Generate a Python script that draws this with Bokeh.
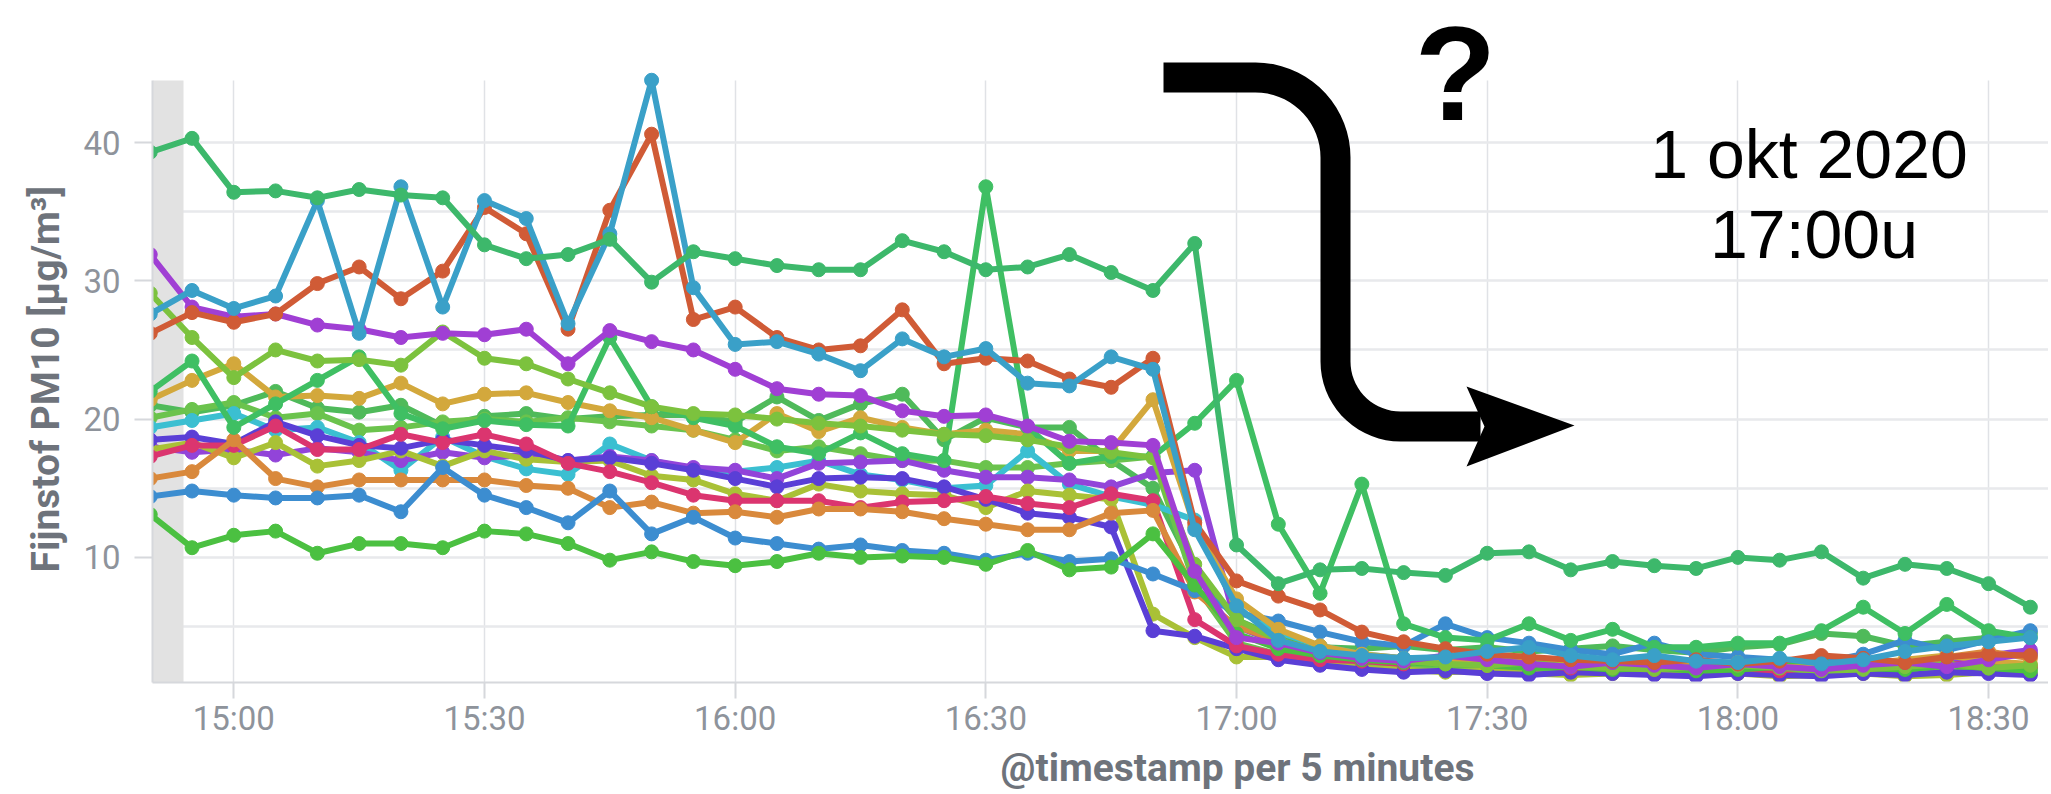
import numpy as np
import pandas as pd
from bokeh.plotting import figure
from bokeh.models import (Range1d, FixedTicker, DatetimeTickFormatter, BoxAnnotation,
                          PolyAnnotation, Label, Title)
from bokeh.embed import file_html
from bokeh.resources import INLINE

# ---------------- data ----------------
times = pd.date_range("2020-10-01 14:50", periods=46, freq="5min")
tick_labels = ["15:00", "15:30", "16:00", "16:30", "17:00", "17:30", "18:00", "18:30"]
y_ticks = [10, 20, 30, 40]
y_minor = [5, 15, 25, 35]

green2 = [21.0, 20.5, 21.0, 22.0, 20.8, 20.5, 21.0, 19.5, 20.2, 20.4, 20.0, 20.2, 20.3, 20.3, 19.8, 21.6,
          19.9, 21.1, 21.8, 18.5, 20.1, 19.4, 19.4, 17.0, 15.0, 9.0, 5.5, 4.2, 3.5, 3.4, 3.6, 3.3, 3.5, 3.2,
          3.4, 3.6, 3.3, 3.1, 3.5, 3.7, 4.5, 4.3, 3.6, 3.9, 4.2, 4.5]
lightgreen = [20.1, 20.7, 21.2, 20.1, 20.4, 19.2, 19.4, 19.8, 20.0, 19.8, 20.1, 19.8, 19.5, 19.2, 18.5, 17.7,
              18.0, 17.5, 17.0, 17.0, 16.5, 16.5, 16.8, 17.0, 17.3, 8.0, 3.8, 3.0, 2.5, 2.2, 2.0, 1.9, 2.1, 1.8,
              1.7, 1.9, 1.8, 1.6, 1.8, 1.7, 1.6, 1.8, 1.9, 1.7, 1.9, 2.0]
cyan = [19.4, 19.9, 20.4, 19.2, 19.4, 18.3, 16.3, 18.7, 17.3, 16.4, 16.0, 18.2, 17.0, 16.4, 16.2, 16.5, 17.0,
        16.0, 15.6, 15.0, 15.2, 17.7, 15.3, 14.4, 13.8, 12.7, 6.2, 4.6, 3.6, 3.0, 2.7, 2.5, 2.8, 2.3, 2.6, 2.2,
        2.4, 2.1, 2.3, 2.0, 2.2, 2.4, 2.1, 2.5, 2.8, 3.0]
violet = [18.0, 17.6, 17.8, 17.4, 17.9, 17.6, 17.0, 17.6, 17.2, 17.4, 17.0, 17.3, 17.0, 16.5, 16.3, 15.7, 16.8,
          16.9, 17.0, 16.3, 15.8, 15.8, 15.6, 15.1, 16.1, 16.3, 5.0, 3.8, 3.2, 2.8, 2.6, 2.4, 2.2, 2.5, 2.1, 2.0,
          2.2, 2.4, 2.0, 2.3, 2.1, 2.0, 2.2, 2.6, 2.9, 3.3]
olive = [17.8, 18.3, 17.2, 18.3, 16.6, 17.0, 17.7, 16.6, 17.7, 17.1, 16.9, 17.0, 15.9, 15.6, 14.6, 14.1, 15.3,
         14.8, 14.6, 14.5, 13.6, 14.8, 14.5, 14.2, 5.9, 4.2, 2.8, 2.8, 2.3, 2.0, 1.9, 1.7, 1.8, 1.6, 1.5, 1.6,
         1.7, 1.5, 1.6, 1.4, 1.5, 1.6, 1.4, 1.5, 1.7, 1.6]
indigo = [18.5, 18.7, 18.2, 19.8, 18.8, 18.1, 17.9, 18.5, 18.1, 17.7, 17.0, 17.2, 16.8, 16.3, 15.7, 15.1, 15.7,
          15.8, 15.7, 15.1, 14.2, 13.2, 12.9, 12.2, 4.7, 4.3, 3.4, 2.6, 2.2, 1.9, 1.7, 1.8, 1.6, 1.5, 1.7, 1.6,
          1.5, 1.4, 1.6, 1.5, 1.4, 1.6, 1.5, 1.7, 1.6, 1.5]
magenta = [17.3, 18.1, 18.1, 19.5, 17.8, 17.8, 18.9, 18.3, 18.9, 18.2, 16.8, 16.2, 15.4, 14.5, 14.1, 14.1,
           14.1, 13.6, 14.0, 14.1, 14.4, 13.9, 13.6, 14.6, 14.1, 5.5, 3.6, 3.0, 2.6, 2.5, 2.3, 2.8, 2.6, 2.2,
           2.0, 2.1, 1.9, 2.2, 2.0, 1.8, 2.1, 2.3, 2.0, 2.2, 2.5, 2.1]
orange = [15.7, 16.2, 18.5, 15.7, 15.1, 15.6, 15.6, 15.6, 15.6, 15.2, 15.0, 13.6, 14.0, 13.2, 13.3, 12.9, 13.5,
          13.5, 13.3, 12.8, 12.4, 12.0, 12.0, 13.2, 13.4, 7.5, 5.0, 4.0, 3.2, 2.9, 2.6, 2.4, 2.6, 2.3, 2.2, 2.4,
          2.6, 2.3, 2.1, 2.4, 2.7, 2.5, 2.2, 2.8, 3.2, 2.7]
medblue = [14.4, 14.8, 14.5, 14.3, 14.3, 14.5, 13.3, 16.5, 14.5, 13.6, 12.5, 14.8, 11.7, 12.9, 11.4, 11.0, 10.6,
           10.9, 10.5, 10.3, 9.8, 10.3, 9.7, 9.9, 8.8, 7.6, 6.0, 5.4, 4.6, 3.9, 3.6, 5.2, 4.2, 3.8, 3.3, 3.0,
           3.8, 3.0, 2.8, 2.6, 2.4, 3.0, 4.0, 3.3, 4.0, 4.7]
green_low = [13.1, 10.7, 11.6, 11.9, 10.3, 11.0, 11.0, 10.7, 11.9, 11.7, 11.0, 9.8, 10.4, 9.7, 9.4, 9.7, 10.3,
             10.0, 10.1, 10.0, 9.5, 10.5, 9.1, 9.3, 11.7, 8.0, 4.5, 3.4, 2.9, 2.6, 2.4, 2.3, 2.2, 2.0, 2.1, 1.9,
             2.0, 1.8, 1.9, 2.1, 2.4, 2.0, 1.9, 2.2, 2.0, 1.8]
gold = [21.4, 22.8, 24.0, 21.6, 21.7, 21.5, 22.6, 21.1, 21.8, 21.9, 21.2, 20.6, 20.1, 19.2, 18.3, 20.4, 19.1,
        20.1, 19.4, 18.9, 19.2, 18.9, 17.7, 17.7, 21.4, 12.2, 7.0, 4.8, 3.6, 3.0, 2.7, 2.4, 2.2, 2.5, 2.3, 2.1,
        2.0, 2.2, 2.4, 2.1, 2.0, 2.3, 2.6, 2.9, 2.5, 2.3]
green_spiky = [22.0, 24.2, 19.4, 21.1, 22.8, 24.5, 20.4, 19.3, 19.9, 19.6, 19.5, 25.9, 20.9, 20.1, 19.5, 18.0,
               17.5, 19.0, 17.5, 17.0, 36.8, 19.4, 16.8, 17.3, 17.3, 19.7, 22.8, 12.4, 7.4, 15.3, 5.2, 4.2, 4.0,
               5.2, 4.0, 4.8, 3.5, 3.5, 3.8, 3.8, 4.7, 6.4, 4.5, 6.6, 4.7, 4.2]
lime = [29.1, 25.9, 23.0, 25.0, 24.2, 24.3, 23.9, 26.3, 24.4, 24.0, 22.9, 21.9, 20.9, 20.4, 20.3, 20.0, 19.7,
        19.5, 19.2, 18.9, 18.8, 18.5, 18.0, 17.6, 17.2, 9.5, 5.5, 4.0, 3.2, 2.8, 2.5, 2.3, 2.2, 2.4, 2.1, 2.0,
        1.9, 2.1, 2.2, 2.0, 1.8, 1.9, 2.1, 2.3, 2.0, 2.2]
purple = [31.9, 28.1, 27.4, 27.6, 26.8, 26.5, 25.9, 26.2, 26.1, 26.5, 24.0, 26.4, 25.6, 25.0, 23.6, 22.2, 21.8,
          21.7, 20.6, 20.2, 20.3, 19.5, 18.4, 18.3, 18.1, 9.0, 4.2, 3.8, 3.1, 2.7, 2.5, 2.9, 2.6, 2.3, 2.1, 2.4,
          2.2, 2.0, 2.3, 2.1, 1.9, 2.2, 2.4, 2.1, 2.6, 3.1]
red = [26.2, 27.7, 27.0, 27.6, 29.8, 31.0, 28.7, 30.7, 35.3, 33.4, 26.5, 35.1, 40.6, 27.2, 28.1, 25.9, 25.0,
       25.3, 27.9, 24.0, 24.4, 24.2, 22.9, 22.3, 24.4, 12.5, 8.3, 7.2, 6.2, 4.6, 3.9, 3.4, 3.0, 2.8, 2.6, 2.5,
       2.4, 2.6, 2.3, 2.5, 2.9, 2.7, 2.4, 2.8, 3.0, 2.9]
lightblue = [27.6, 29.3, 28.0, 28.9, 35.8, 26.2, 36.8, 28.1, 35.8, 34.5, 26.9, 33.4, 44.5, 29.5, 25.4, 25.6,
             24.7, 23.5, 25.8, 24.5, 25.1, 22.6, 22.4, 24.5, 23.6, 12.0, 6.5, 4.0, 3.2, 2.9, 2.7, 2.8, 3.2, 3.5,
             2.9, 2.6, 2.9, 2.5, 2.4, 2.7, 2.3, 2.6, 3.2, 3.6, 3.9, 4.2]
teal = [39.3, 40.3, 36.4, 36.5, 36.0, 36.6, 36.2, 36.0, 32.6, 31.6, 31.9, 33.0, 29.9, 32.1, 31.6, 31.1, 30.8,
        30.8, 32.9, 32.1, 30.8, 31.0, 31.9, 30.6, 29.3, 32.7, 10.9, 8.1, 9.1, 9.2, 8.9, 8.7, 10.3, 10.4, 9.1,
        9.7, 9.4, 9.2, 10.0, 9.8, 10.4, 8.5, 9.5, 9.2, 8.1, 6.4]

series = [
    (green2, "#4FBA5A"), (lightgreen, "#6BC34D"), (cyan, "#3BBFD1"), (violet, "#9244D9"),
    (olive, "#A9C136"), (indigo, "#5A3FD6"), (magenta, "#DB356F"), (orange, "#D9893C"),
    (medblue, "#3C8DD0"), (green_low, "#4BC041"), (gold, "#D3A83C"), (green_spiky, "#3FBF63"),
    (lime, "#7CC23E"), (purple, "#A03FD4"), (red, "#D05B36"), (lightblue, "#3AA0C8"),
    (teal, "#3DB86B"),
]

# ---------------- layout helpers (pixel layout of the reference) ----------------
T1500 = pd.Timestamp("2020-10-01 15:00").value / 1e6
X1500, PXMIN, Y40, PXUNIT = 233.3, 8.356, 142.0, 13.83
W, H = 2048, 792
FRAME_L, FRAME_B, PLOT_TOP = 152, 682, 80


def fx(px):
    return T1500 + (px - X1500) / PXMIN * 60000.0


def fy(py):
    return 40.0 - (py - Y40) / PXUNIT


Y_LO, Y_HI = fy(FRAME_B), fy(PLOT_TOP)

p = figure(width=W, height=H, x_axis_type="datetime",
           x_range=Range1d(fx(FRAME_L), fx(W)), y_range=Range1d(Y_LO, fy(0)),
           output_backend="svg", toolbar_location=None,
           min_border_left=FRAME_L, min_border_right=0, min_border_top=0, min_border_bottom=H - FRAME_B)
p.outline_line_color = None
p.background_fill_color = "white"
p.border_fill_color = "white"

# shaded partial bucket at the left
p.add_layout(BoxAnnotation(left=fx(FRAME_L), right=fx(183), bottom=Y_LO, top=Y_HI, fill_color="#E2E2E2",
                           fill_alpha=1.0, line_color=None, level="underlay"))

# axes
tick_ms = [pd.Timestamp("2020-10-01 " + t).value / 1e6 for t in tick_labels]
xt = FixedTicker(ticks=tick_ms)
p.xaxis.ticker = xt
p.xgrid.ticker = xt
p.xaxis.formatter = DatetimeTickFormatter(minutes="%H:%M", hourmin="%H:%M", hours="%H:%M")
p.xaxis.major_label_overrides = {m: l for m, l in zip(tick_ms, tick_labels)}
yt = FixedTicker(ticks=y_ticks, minor_ticks=y_minor)
p.yaxis.ticker = yt
p.ygrid.ticker = yt
p.yaxis.bounds = (Y_LO, Y_HI)

axis_col = "#D6D8DC"
for ax in (p.xaxis, p.yaxis):
    ax.axis_line_color = axis_col
    ax.axis_line_width = 2
    ax.major_tick_line_color = axis_col
    ax.major_tick_line_width = 2
    ax.major_tick_in = 0
    ax.minor_tick_line_color = None
    ax.major_label_text_font = "Roboto"
    ax.major_label_text_font_size = "33px"
    ax.major_label_text_color = "#8E939B"
p.xaxis.major_tick_out = 16
p.xaxis.major_label_standoff = 0
p.yaxis.major_tick_out = 18
p.yaxis.major_label_standoff = 14

p.xgrid.grid_line_color = "#E0E2E6"
p.xgrid.grid_line_width = 1.5
try:
    p.xgrid.cross_bounds = (Y_LO, Y_HI)
except Exception:
    pass
p.ygrid.grid_line_color = "#E8E9EC"
p.ygrid.grid_line_width = 2.5
p.ygrid.minor_grid_line_color = "#E8E9EC"
p.ygrid.minor_grid_line_width = 2.5

# axis titles as side-panel titles (positioned like the reference)
p.add_layout(Title(text="Fijnstof PM10 [µg/m³]", align="left", offset=110, vertical_align="top",
                   standoff=20, text_font="Roboto", text_font_style="bold", text_font_size="39px",
                   text_color="#6E737B"), "left")
p.add_layout(Title(text="@timestamp per 5 minutes", align="left", offset=1000 - FRAME_L,
                   vertical_align="bottom", standoff=4, text_font="Roboto", text_font_style="bold",
                   text_font_size="39px", text_color="#6E737B"), "below")

# series
for vals, col in series:
    p.line(times, vals, line_color=col, line_width=6, line_join="round")
    p.scatter(times, vals, size=14, fill_color=col, line_color=col, marker="circle")

# ---------------- annotations: curved arrow, question mark, date text ----------------
def arc(cx, cy, r, a0, a1, n=18):
    a = np.radians(np.linspace(a0, a1, n))
    return list(zip(cx + r * np.cos(a), cy + r * np.sin(a)))


center = [(1163.0, 77.0)] + arc(1255, 157, 80, -90, 0) + arc(1400, 361, 65, 180, 90) + [(1480.0, 426.0)]


def thick_path(pts, w):
    pts = np.array(pts, float)
    n = len(pts)
    nor = []
    for k in range(n):
        if k == 0:
            d = pts[1] - pts[0]
        elif k == n - 1:
            d = pts[-1] - pts[-2]
        else:
            d = pts[k + 1] - pts[k - 1]
        d = d / np.hypot(*d)
        nor.append([-d[1], d[0]])
    nor = np.array(nor)
    return np.vstack([pts + nor * w / 2, (pts - nor * w / 2)[::-1]])


shaft = thick_path(center, 30)
p.add_layout(PolyAnnotation(xs=[fx(a) for a in shaft[:, 0]], ys=[fy(b) for b in shaft[:, 1]],
                            fill_color="black", fill_alpha=1.0, line_color=None))
head = [(1466, 386), (1574, 425), (1466, 466), (1484, 426)]
p.add_layout(PolyAnnotation(xs=[fx(a) for a, b in head], ys=[fy(b) for a, b in head],
                            fill_color="black", fill_alpha=1.0, line_color=None))

# text labels (baseline compensated: the svg text sits ~0.35em below the anchor)
def lab(text, cx, base_y, size, bold=False):
    p.add_layout(Label(x=fx(cx), y=fy(base_y - 0.35 * size), text=text, text_font="Liberation Sans",
                       text_font_style="bold" if bold else "normal", text_font_size=f"{size}px",
                       text_color="black", text_align="center", text_baseline="alphabetic"))


lab("?", 1455, 120, 134, bold=True)
lab("1 okt 2020", 1808.5, 177, 68)
lab("17:00u", 1813.5, 257, 68)

open("out.html", "w").write(file_html(p, INLINE))
